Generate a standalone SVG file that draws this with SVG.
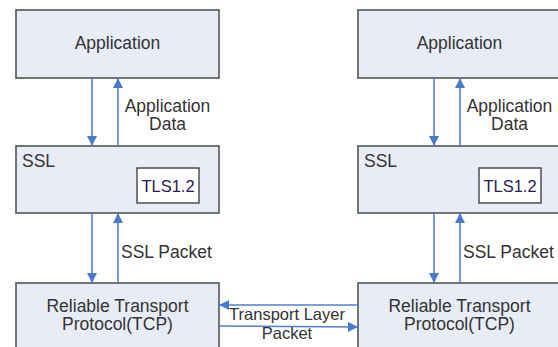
<svg xmlns="http://www.w3.org/2000/svg" width="558" height="347" viewBox="0 0 558 347">
<style>
.box{fill:#e7ecf6;stroke:#555;stroke-width:1.6}
.tls{fill:#fff;stroke:#444;stroke-width:1.4}
.t{font-family:"Liberation Sans",Arial,sans-serif;font-size:17.5px;fill:#333}
.ts{font-family:"Liberation Sans",Arial,sans-serif;font-size:16.5px;fill:#333}
.tl{font-family:"Liberation Sans",Arial,sans-serif;font-size:16.5px;fill:#2a1a55}
.c{stroke:#4f7fcf;stroke-width:1.6;fill:none}
</style>
<defs>
<marker id="ah" viewBox="0 0 10 10" refX="10" refY="5" markerWidth="10" markerHeight="10" markerUnits="userSpaceOnUse" orient="auto">
<path d="M0,0 L10,5 L0,10 Z" fill="#4a7bcc"/>
</marker>
</defs>
<rect width="558" height="347" fill="#fff"/>
<g id="app-left"><rect class="box" x="16" y="10" width="203" height="68"/><text class="t" x="117.5" y="48.5" text-anchor="middle">Application</text></g>
<g id="ssl-left"><rect class="box" x="16" y="146" width="203" height="67"/><text class="t" x="22" y="166.5">SSL</text></g>
<g id="tls-left"><rect class="tls" x="137" y="168" width="62" height="35"/><text class="tl" x="168" y="192" text-anchor="middle">TLS1.2</text></g>
<g id="tcp-left"><rect class="box" x="16" y="283" width="203" height="80"/><text class="t" x="117.5" y="311.5" text-anchor="middle">Reliable Transport</text><text class="t" x="117.5" y="330" text-anchor="middle">Protocol(TCP)</text></g>
<g id="app-right"><rect class="box" x="358" y="10" width="203" height="68"/><text class="t" x="459.5" y="48.5" text-anchor="middle">Application</text></g>
<g id="ssl-right"><rect class="box" x="358" y="146" width="203" height="67"/><text class="t" x="364" y="166.5">SSL</text></g>
<g id="tls-right"><rect class="tls" x="479" y="168" width="62" height="35"/><text class="tl" x="510" y="192" text-anchor="middle">TLS1.2</text></g>
<g id="tcp-right"><rect class="box" x="358" y="283" width="203" height="80"/><text class="t" x="459.5" y="311.5" text-anchor="middle">Reliable Transport</text><text class="t" x="459.5" y="330" text-anchor="middle">Protocol(TCP)</text></g>
<g id="connectors">
<line class="c" x1="92" y1="78" x2="92" y2="146" marker-end="url(#ah)"/>
<line class="c" x1="118" y1="146" x2="118" y2="78" marker-end="url(#ah)"/>
<line class="c" x1="92" y1="213" x2="92" y2="283" marker-end="url(#ah)"/>
<line class="c" x1="118" y1="283" x2="118" y2="213" marker-end="url(#ah)"/>
<line class="c" x1="434" y1="78" x2="434" y2="146" marker-end="url(#ah)"/>
<line class="c" x1="460" y1="146" x2="460" y2="78" marker-end="url(#ah)"/>
<line class="c" x1="434" y1="213" x2="434" y2="283" marker-end="url(#ah)"/>
<line class="c" x1="460" y1="283" x2="460" y2="213" marker-end="url(#ah)"/>
<line class="c" x1="358" y1="305" x2="219" y2="305" marker-end="url(#ah)"/>
<line class="c" x1="219" y1="326" x2="358" y2="327" marker-end="url(#ah)"/>
<text class="t" x="167.5" y="111.5" text-anchor="middle">Application</text>
<text class="t" x="167.5" y="130" text-anchor="middle">Data</text>
<text class="t" x="121" y="257.5">SSL Packet</text>
<text class="t" x="509.5" y="111.5" text-anchor="middle">Application</text>
<text class="t" x="509.5" y="130" text-anchor="middle">Data</text>
<text class="t" x="463" y="257.5">SSL Packet</text>
<text class="ts" x="287" y="319.5" text-anchor="middle">Transport Layer</text>
<text class="ts" x="287" y="339" text-anchor="middle">Packet</text>
</g>
</svg>
